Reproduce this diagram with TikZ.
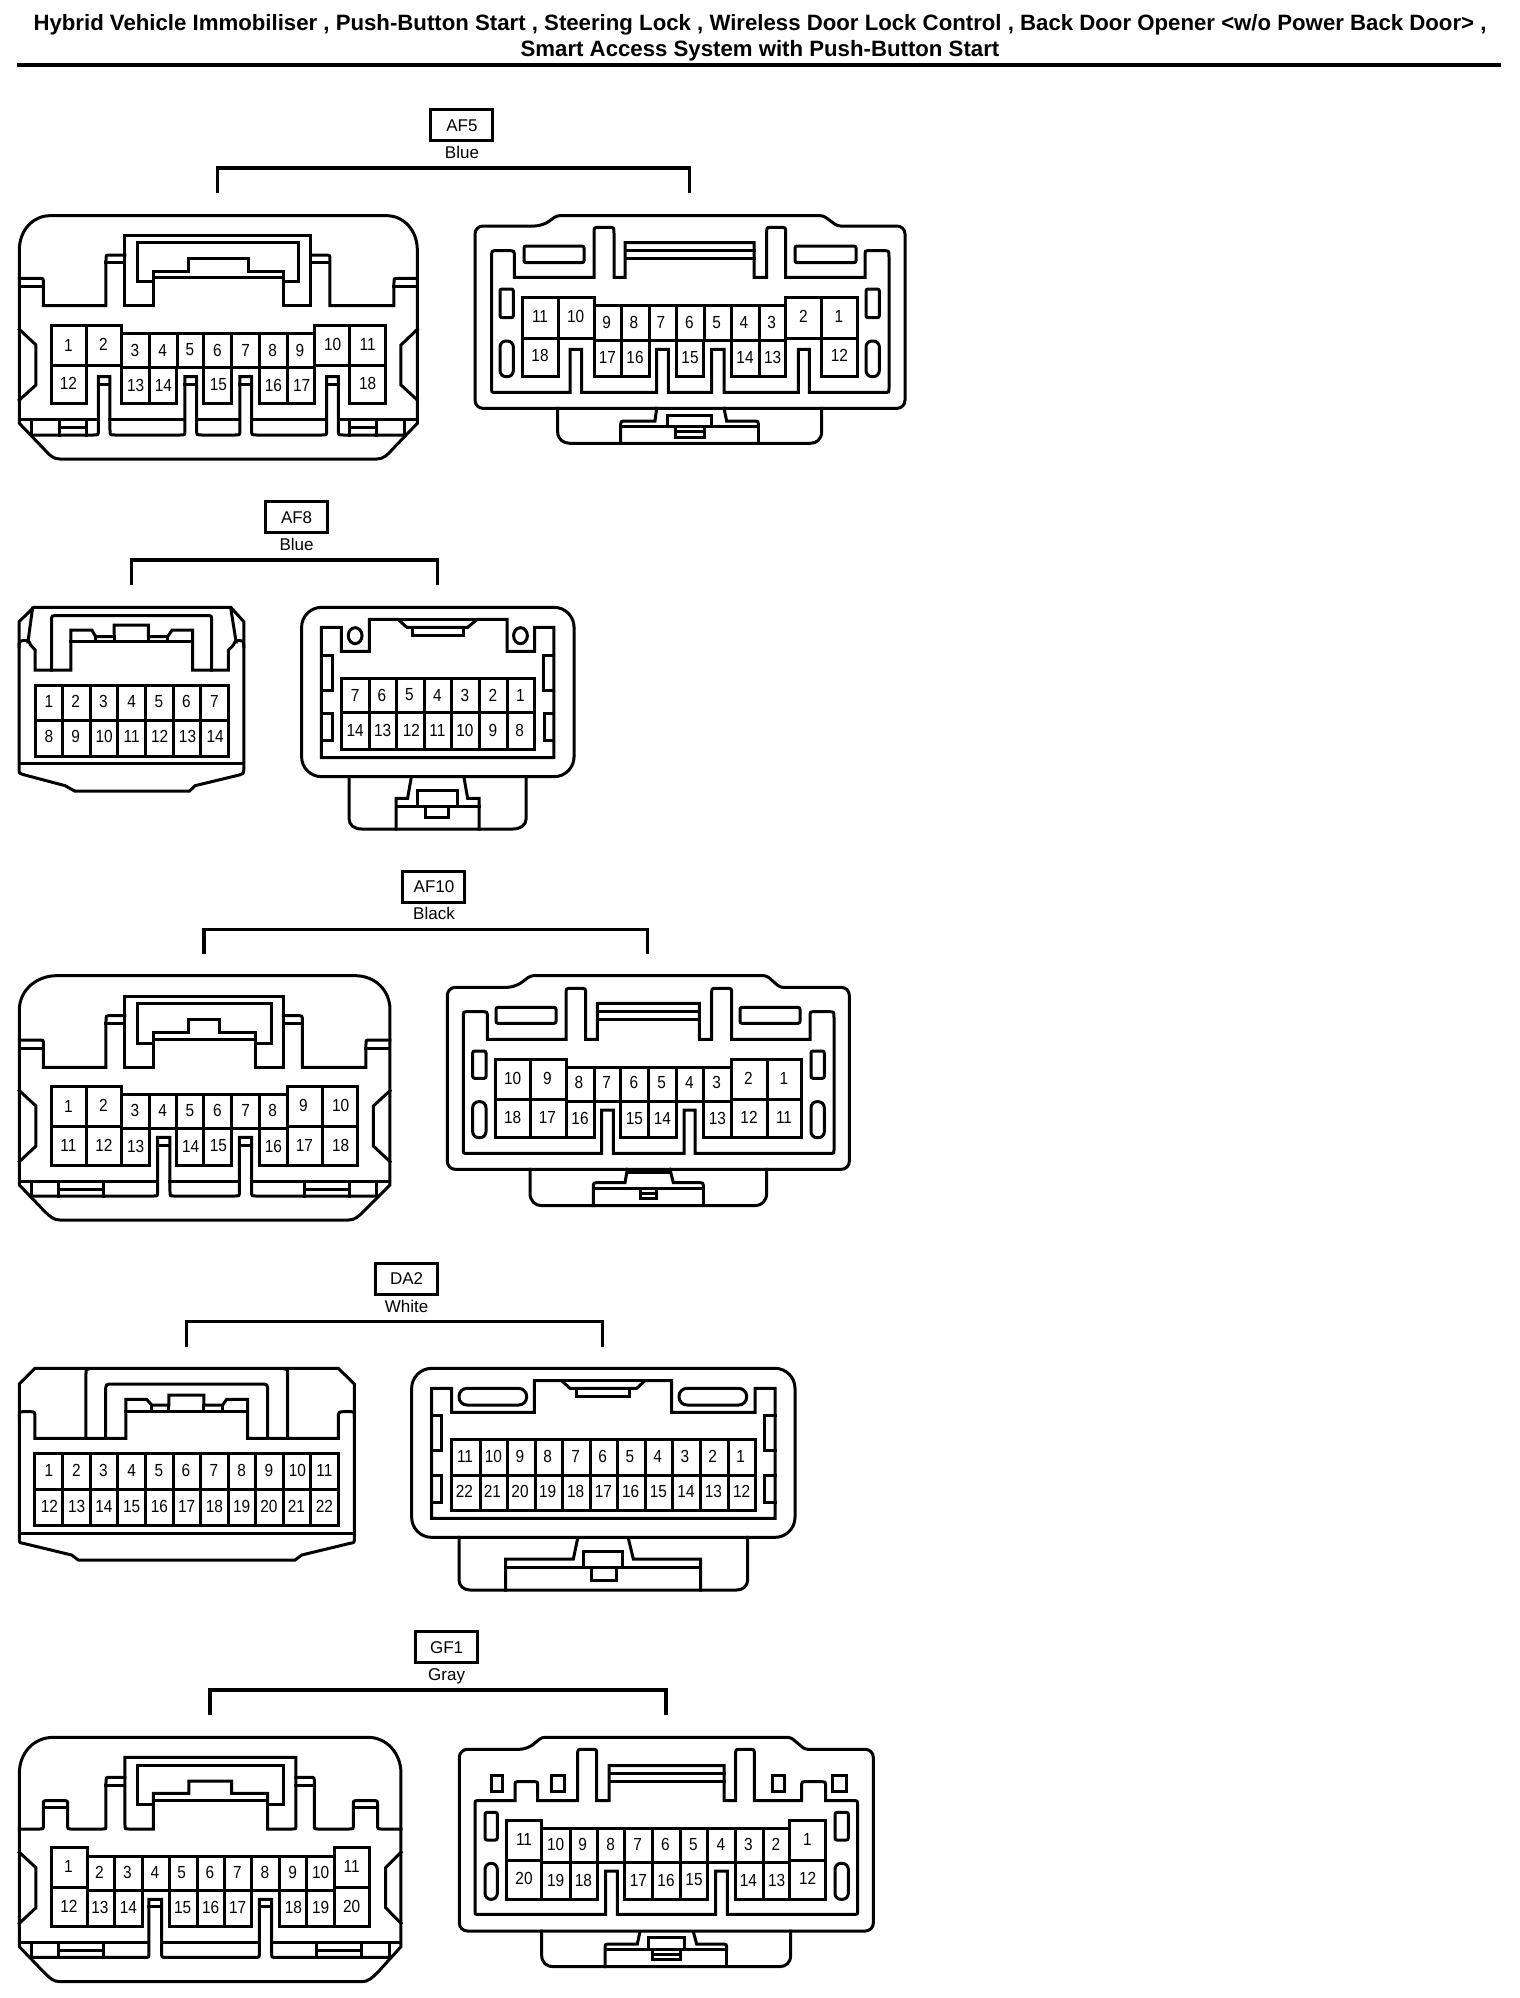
\documentclass[tikz,border=0pt]{standalone}
\usepackage{fontspec}
\setmainfont{Liberation Sans}
\newfontfamily\pinfont[FakeStretch=.88]{Liberation Sans}
\tikzset{
  w/.style={line width=3pt,line join=miter,line cap=rect},
  bracketline/.style={line width=3.4pt,line join=miter},
  pinlabel/.style={font=\pinfont\fontsize{17.5}{20}\selectfont,inner sep=0pt},
  tagbox/.style={draw,line width=3pt,minimum width=62pt,minimum height=31pt,inner sep=0pt,font=\fontsize{17}{19}\selectfont},
  colourlabel/.style={inner sep=0pt,font=\fontsize{17}{19}\selectfont},
  titletext/.style={inner sep=0pt,font=\bfseries\fontsize{22.2}{26}\selectfont},
}
\newcommand\pins[2]{\foreach \t/\x/\y in {#2} {\node[pinlabel] (#1-\t) at (\x,\y) {\t};}}
\newcommand\vl[1]{\foreach \x/\a/\b in {#1} {\draw[w] (\x,\a) -- (\x,\b);}}
\newcommand\hl[1]{\foreach \y/\a/\b in {#1} {\draw[w] (\a,\y) -- (\b,\y);}}
\def\Q(#1)(#2){.. controls (#1) .. (#2)}
\begin{document}
\begin{tikzpicture}[x=1pt,y=-1pt]
\fill[white] (0,0) rectangle (1520,1998);
\useasboundingbox (0,0) rectangle (1520,1998);
\node[titletext] (title1) at (760,24.5) {Hybrid Vehicle Immobiliser , Push-Button Start , Steering Lock , Wireless Door Lock Control , Back Door Opener <w/o Power Back Door> ,};
\node[titletext] (title2) at (760,51) {Smart Access System with Push-Button Start};
\draw[line width=4pt] (17,65) -- (1501,65);

%% ---------- AF5 left
\begin{scope}[shift={(0pt,-90pt)},x=.33333pt,y=-.33333pt]
\node[tagbox] (af5) at (1386,106) {AF5};
\node[colourlabel] (af5c) at (1386,187) {Blue};
\draw[bracketline] (653,308) -- (653,234) -- (2068,234) -- (2068,308);
\draw[w] (58,1000) -- (58,480) .. controls (58,420) and (100,377) .. (150,377) -- (1160,377) .. controls (1210,377) and (1252,420) .. (1252,480) -- (1252,1000) -- (1180,1075) .. controls (1160,1097) and (1150,1107) .. (1130,1107) -- (180,1107) .. controls (160,1107) and (150,1097) .. (130,1075) -- cycle;
\draw[w] (58,565) -- (118,565) \Q(130,565)(130,578) -- (130,647) -- (318,647) -- (318,510) \Q(318,495)(330,495) -- (375,495);
\hl{590/58/130,517/318/375,517/932/990,590/1182/1252,563/460/852}
\draw[w] (375,437) -- (932,437) -- (932,647) -- (852,647) -- (852,545) -- (745,545) -- (745,505) -- (567,505) -- (567,545) -- (460,545) -- (460,647) -- (375,647) -- cycle;
\draw[w] (852,575) -- (895,575) -- (895,458) -- (412,458) -- (412,575) -- (460,575);
\draw[w] (932,495) -- (975,495) \Q(990,495)(990,510) -- (990,647) -- (1182,647) -- (1182,578) \Q(1182,565)(1195,565) -- (1252,565);
\draw[w] (58,718) -- (108,765) -- (108,885) -- (58,930);
\draw[w] (1252,718) -- (1203,765) -- (1203,885) -- (1252,930);
\draw[w] (155,707) -- (365,707) -- (365,730) -- (945,730) -- (945,707) -- (1157,707) -- (1157,940) -- (1048,940) -- (1048,825);
\draw[w] (155,707) -- (155,940) -- (260,940) -- (260,707);
\draw[w] (365,730) -- (365,940) -- (530,940) -- (530,832);
\draw[w] (612,832) -- (612,940) -- (695,940) -- (695,832);
\draw[w] (778,832) -- (778,940) -- (945,940) -- (945,707);
\hl{825/155/365,832/365/945,825/945/1157}
\vl{450/730/940,532/730/832,612/730/832,695/730/832,778/730/832,862/730/940,1048/707/825}
\draw[w] (100,1035) -- (280,1035) \Q(295,1035)(295,1020) -- (295,860) -- (330,860) -- (330,1020) \Q(330,1035)(345,1035) -- (540,1035) \Q(555,1035)(555,1020) -- (555,860) -- (590,860) -- (590,1020) \Q(590,1035)(605,1035) -- (705,1035) \Q(720,1035)(720,1020) -- (720,860) -- (755,860) -- (755,1020) \Q(755,1035)(770,1035) -- (965,1035) \Q(980,1035)(980,1020) -- (980,860) -- (1015,860) -- (1015,1020) \Q(1015,1035)(1030,1035) -- (1215,1035);
\hl{988/58/295,988/330/555,988/590/720,988/755/980,988/1015/1252,882/295/330,882/555/590,882/720/755,882/980/1015,1012/178/260,1012/1048/1130}
\vl{95/990/1035,178/990/1035,260/990/1035,1048/990/1035,1130/990/1035,1215/990/1035}
\pins{a}{1/205/765,2/310/762,3/405/780,4/488/782,5/570/780,6/652/780,7/737/780,8/818/780,9/900/780,10/998/763,11/1103/763,12/205/880,13/407/885,14/490/885,15/655/885,16/820/885,17/905/885,18/1103/880}
\end{scope}

%% ---------- AF5 right
\begin{scope}[shift={(460pt,-90pt)},x=.33333pt,y=-.33333pt]
\draw[w,rounded corners=8pt] (45,600) -- (45,408) -- (248,408) [rounded corners=3pt] -- (290,377) -- (1090,377) -- (1132,408) [rounded corners=8pt] -- (1335,408) -- (1335,955) -- (45,955) -- cycle;
\draw[w] (95,500) \Q(95,482)(110,482) -- (145,482) \Q(163,482)(163,500) -- (163,562) -- (402,562) -- (402,430) \Q(402,412)(420,412) -- (445,412) \Q(462,412)(462,430) -- (462,562) -- (495,562) -- (495,458) -- (882,458) -- (882,562) -- (920,562) -- (920,430) \Q(920,412)(935,412) -- (960,412) \Q(977,412)(977,430) -- (977,562) -- (1215,562) -- (1215,500) \Q(1215,482)(1228,482) -- (1270,482) \Q(1287,482)(1287,500) -- (1287,895) \Q(1287,907)(1275,907) -- (1048,907) -- (1048,778) -- (1015,778) -- (1015,907) -- (792,907) -- (792,778) -- (755,778) -- (755,907) -- (625,907) -- (625,778) -- (590,778) -- (590,907) -- (365,907) -- (365,778) -- (330,778) -- (330,907) -- (105,907) \Q(95,907)(95,895) -- cycle;
\hl{482/495/882,505/495/882}
\draw[w,rounded corners=2pt] (192,468) rectangle (372,518);
\draw[w,rounded corners=2pt] (1005,468) rectangle (1188,518);
\draw[w,rounded corners=2pt] (120,597) rectangle (160,683);
\draw[w,rounded corners=6pt] (120,753) rectangle (160,860);
\draw[w,rounded corners=2pt] (1218,597) rectangle (1258,683);
\draw[w,rounded corners=6pt] (1218,753) rectangle (1258,860);
\draw[w] (187,622) -- (402,622) -- (402,647) -- (975,647) -- (975,622) -- (1193,622) -- (1193,858) -- (1085,858) -- (1085,622);
\draw[w] (187,622) -- (187,858) -- (295,858) -- (295,622);
\draw[w] (402,647) -- (402,858) -- (568,858) -- (568,752);
\draw[w] (648,752) -- (648,858) -- (730,858) -- (730,752);
\draw[w] (815,752) -- (815,858) -- (975,858) -- (975,622);
\hl{745/187/402,752/402/975,745/975/1193}
\vl{483/647/858,568/647/752,648/647/752,733/647/752,815/647/752,897/647/858}
\draw[w] (293,955) -- (293,1025) .. controls (293,1048) and (310,1060) .. (330,1060) -- (1050,1060) .. controls (1070,1060) and (1085,1048) .. (1085,1025) -- (1085,955);
\draw[w] (590,955) -- (585,993) -- (500,993) \Q(482,993)(482,1010) -- (482,1060);
\draw[w] (482,1010) -- (895,1010) -- (895,1060);
\draw[w] (895,1010) \Q(895,993)(880,993) -- (800,993) -- (792,955);
\draw[w] (622,1005) -- (622,977) -- (755,977) -- (755,1005);
\draw[w] (645,1010) -- (645,1042) -- (733,1042) -- (733,1010);
\hl{1025/645/733}
\pins{b}{11/240/680,10/347/680,9/440/697,8/522/697,7/603/697,6/688/697,5/770/697,4/852/697,3/935/697,2/1030/680,1/1137/680,18/240/797,17/442/803,16/525/803,15/690/803,14/855/803,13/938/803,12/1138/797}
\end{scope}

%% ---------- AF8
\begin{scope}[shift={(0pt,-490pt)},x=.3827pt,y=-.33333pt]
\node[tagbox] (af8) at (775,82) {AF8};
\node[colourlabel] (af8c) at (775,163) {Blue};
\draw[bracketline] (344,286) -- (344,210) -- (1143,210) -- (1143,286);
\draw[w] (50,395) -- (88,352) -- (603,352) -- (637,395) -- (637,840) \Q(637,850)(625,855) -- (510,887) -- (495,903) -- (195,903) -- (170,887) -- (65,855) \Q(50,850)(50,840) -- cycle;
\hl{820/50/637,455/185/503}
\draw[w] (50,470) \Q(50,452)(68,452) \Q(75,452)(80,465) -- (92,480) -- (92,540) -- (185,540) -- (185,420) -- (240,420) -- (250,440) -- (298,440) -- (298,405) -- (388,405) -- (388,440) -- (438,440) -- (450,420) -- (503,420) -- (503,540) -- (597,540) -- (597,480) -- (610,465) \Q(615,452)(622,452) \Q(637,452)(637,470);
\vl{298/440/455,388/440/455,250/440/455,438/440/455}
\draw[w] (135,540) -- (135,390) \Q(135,377)(148,377) -- (540,377) \Q(553,377)(553,390) -- (553,540);
\draw[w] (85,355) -- (73,456);
\draw[w] (603,355) -- (617,456);
\draw[w] (92,585) rectangle (597,798);
\hl{690/92/597}
\vl{163/585/798,237/585/798,308/585/798,381/585/798,454/585/798,525/585/798}
\pins{c}{1/128/635,2/198/635,3/270/635,4/344/635,5/415/635,6/487/635,7/560/635,8/128/740,9/198/740,10/272/740,11/344/740,12/417/740,13/490/740,14/562/740}
% right
\draw[w,rounded corners=20pt] (788,352) rectangle (1500,860);
\draw[w] (912,860) -- (912,985) .. controls (912,1005) and (925,1017) .. (945,1017) -- (1340,1017) .. controls (1360,1017) and (1375,1005) .. (1375,985) -- (1375,860);
\draw[w] (840,412) -- (892,412) -- (892,484) -- (965,484) -- (965,388) -- (1040,388) -- (1063,412) -- (1222,412) -- (1247,388) -- (1325,388) -- (1325,484) -- (1397,484) -- (1397,412) -- (1447,412) -- (1447,803) -- (840,803) -- cycle;
\hl{388/1040/1247}
\draw[w] (1078,412) -- (1078,437) -- (1212,437) -- (1212,412);
\draw[w] (928,437) ellipse [x radius=18,y radius=24];
\draw[w] (1360,437) ellipse [x radius=18,y radius=24];
\draw[w] (840,495) -- (868,495) -- (868,600) -- (840,600);
\draw[w] (840,670) -- (868,670) -- (868,752) -- (840,752);
\draw[w] (1447,495) -- (1420,495) -- (1420,600) -- (1447,600);
\draw[w] (1447,670) -- (1422,670) -- (1422,752) -- (1447,752);
\draw[w] (892,565) rectangle (1397,778);
\hl{668/892/1397}
\vl{965/565/778,1037/565/778,1108/565/778,1180/565/778,1252/565/778,1325/565/778}
\pins{d}{7/928/615,6/998/615,5/1070/615,4/1143/615,3/1215/615,2/1288/615,1/1360/615,14/928/722,13/1000/722,12/1075/722,11/1143/722,10/1215/722,9/1288/722,8/1358/722}
\draw[w] (1075,860) -- (1065,925) -- (1035,925) -- (1035,1017);
\draw[w] (1212,860) -- (1222,925) -- (1252,925) -- (1252,1017);
\hl{948/1035/1252}
\draw[w] (1092,948) -- (1092,902) -- (1195,902) -- (1195,948);
\draw[w] (1113,948) -- (1113,982) -- (1172,982) -- (1172,948);
\end{scope}

%% ---------- AF10 left
\begin{scope}[shift={(0pt,-860pt)},x=.33333pt,y=-.33333pt]
\node[tagbox] (af10) at (1302,80) {AF10};
\node[colourlabel] (af10c) at (1302,161) {Black};
\draw[bracketline] (612,283) -- (612,208) -- (1943,208) -- (1943,283);
\draw[w] (58,975) -- (58,450) .. controls (58,390) and (110,347) .. (170,347) -- (1065,347) .. controls (1125,347) and (1170,390) .. (1170,450) -- (1170,975) -- (1095,1050) .. controls (1075,1070) and (1065,1080) .. (1045,1080) -- (180,1080) .. controls (160,1080) and (150,1070) .. (130,1050) -- cycle;
\draw[w] (58,540) -- (118,540) \Q(130,540)(130,552) -- (130,622) -- (318,622) -- (318,483) \Q(318,467)(330,467) -- (375,467);
\hl{565/58/130,490/318/375,490/850/907,565/1098/1170,538/460/768}
\draw[w] (375,408) -- (850,408) -- (850,622) -- (768,622) -- (768,518) -- (660,518) -- (660,478) -- (567,478) -- (567,518) -- (460,518) -- (460,622) -- (375,622) -- cycle;
\draw[w] (768,550) -- (815,550) -- (815,430) -- (412,430) -- (412,550) -- (460,550);
\draw[w] (850,467) -- (893,467) \Q(907,467)(907,483) -- (907,622) -- (1098,622) -- (1098,552) \Q(1098,540)(1110,540) -- (1170,540);
\draw[w] (58,692) -- (108,738) -- (108,858) -- (58,905);
\draw[w] (1170,692) -- (1120,738) -- (1120,858) -- (1170,905);
\draw[w] (155,680) -- (365,680) -- (365,703) -- (862,703) -- (862,680) -- (1073,680) -- (1073,915) -- (778,915) -- (778,805);
\draw[w] (155,680) -- (155,915) -- (448,915) -- (448,805);
\draw[w] (530,805) -- (530,915) -- (695,915) -- (695,805);
\hl{798/155/365,805/365/862,798/862/1073}
\vl{260/680/915,365/680/915,450/703/805,530/703/805,612/703/915,695/703/805,778/703/805,862/680/915,968/680/915}
\draw[w] (100,1008) -- (460,1008) \Q(473,1008)(473,995) -- (473,832) -- (510,832) -- (510,995) \Q(510,1008)(522,1008) -- (705,1008) \Q(718,1008)(718,995) -- (718,832) -- (755,832) -- (755,995) \Q(755,1008)(768,1008) -- (1130,1008);
\hl{963/58/473,963/510/718,963/755/1170,855/473/510,855/718/755,987/175/310,987/915/1048}
\vl{95/963/1008,175/963/1008,310/963/1008,915/963/1008,1048/963/1008,1130/963/1008}
\pins{e}{1/205/738,2/310/737,3/405/752,4/488/752,5/570/752,6/652/752,7/737/752,8/818/752,9/910/737,10/1022/737,11/205/855,12/312/855,13/407/858,14/572/858,15/655/858,16/820/858,17/913/855,18/1022/855}
\end{scope}

%% ---------- AF10 right
\begin{scope}[shift={(430pt,-860pt)},x=.33333pt,y=-.33333pt]
\draw[w,rounded corners=8pt] (52,600) -- (52,382) -- (255,382) [rounded corners=3pt] -- (302,347) -- (1010,347) -- (1050,382) [rounded corners=8pt] -- (1258,382) -- (1258,928) -- (52,928) -- cycle;
\draw[w] (100,472) \Q(100,455)(115,455) -- (155,455) \Q(172,455)(172,472) -- (172,538) -- (408,538) -- (408,402) \Q(408,385)(425,385) -- (450,385) \Q(467,385)(467,402) -- (467,538) -- (502,538) -- (502,430) -- (808,430) -- (808,538) -- (845,538) -- (845,402) \Q(845,385)(860,385) -- (888,385) \Q(905,385)(905,402) -- (905,538) -- (1140,538) -- (1140,472) \Q(1140,455)(1155,455) -- (1195,455) \Q(1212,455)(1212,472) -- (1212,870) \Q(1212,880)(1200,880) -- (795,880) -- (795,750) -- (762,750) -- (762,880) -- (550,880) -- (550,750) -- (515,750) -- (515,880) -- (112,880) \Q(100,880)(100,870) -- cycle;
\hl{455/502/808,478/502/808}
\draw[w,rounded corners=2pt] (198,442) rectangle (378,490);
\draw[w,rounded corners=2pt] (930,442) rectangle (1110,490);
\draw[w,rounded corners=2pt] (128,573) rectangle (168,655);
\draw[w,rounded corners=6pt] (128,725) rectangle (168,833);
\draw[w,rounded corners=2pt] (1143,573) rectangle (1183,655);
\draw[w,rounded corners=6pt] (1143,725) rectangle (1183,833);
\draw[w] (195,598) -- (408,598) -- (408,622) -- (905,622) -- (905,598) -- (1115,598) -- (1115,832) -- (820,832) -- (820,725);
\draw[w] (195,598) -- (195,832) -- (492,832) -- (492,725);
\draw[w] (570,725) -- (570,832) -- (738,832) -- (738,725);
\hl{718/195/408,725/408/905,718/905/1115}
\vl{300/598/832,408/598/832,492/622/725,572/622/725,655/622/832,738/622/725,820/622/725,905/598/832,1012/598/832}
\draw[w] (300,928) -- (300,1000) .. controls (300,1022) and (315,1037) .. (335,1037) -- (975,1037) .. controls (995,1037) and (1010,1022) .. (1010,1000) -- (1010,928);
\draw[w] (592,928) -- (585,968) -- (505,968) \Q(490,968)(490,985) -- (490,1037);
\draw[w] (490,985) -- (820,985) -- (820,1037);
\draw[w] (820,985) \Q(820,968)(805,968) -- (730,968) -- (720,928);
\hl{938/592/718,1000/630/680}
\draw[w] (630,985) -- (630,1015) -- (680,1015) -- (680,985);
\pins{f}{10/248/655,9/352/655,8/447/668,7/530/668,6/612/668,5/695/668,4/778/668,3/860/668,2/955/655,1/1062/655,18/248/772,17/352/772,16/450/775,15/613/775,14/697/775,13/862/775,12/957/772,11/1062/772}
\end{scope}

%% ---------- DA2 left
\begin{scope}[shift={(0pt,-1260pt)},x=.33333pt,y=-.33333pt]
\node[tagbox] (da2) at (1220,57) {DA2};
\node[colourlabel] (da2c) at (1220,140) {White};
\draw[bracketline] (560,260) -- (560,184) -- (1808,184) -- (1808,260);
\draw[w] (58,372) -- (105,325) -- (1015,325) -- (1063,372) -- (1063,835) \Q(1063,848)(1050,850) -- (905,885) -- (885,900) -- (235,900) -- (215,885) -- (70,850) \Q(58,848)(58,835) -- cycle;
\hl{820/58/1063,453/378/743}
\draw[w] (58,470) \Q(58,455)(75,455) -- (88,455) \Q(105,455)(105,475) -- (105,535) -- (378,535) -- (378,418) -- (440,418) -- (455,435) -- (507,435) -- (507,405) -- (612,405) -- (612,435) -- (668,435) -- (680,418) -- (743,418) -- (743,535) -- (1015,535) -- (1015,475) \Q(1015,455)(1035,455) -- (1048,455) \Q(1063,455)(1063,470);
\vl{455/435/453,507/435/453,612/435/453,668/435/453}
\draw[w] (258,535) -- (258,340) \Q(258,327)(265,327);
\draw[w] (863,535) -- (863,345) \Q(863,327)(855,327);
\draw[w] (317,535) -- (317,395) \Q(317,372)(340,372) -- (780,372) \Q(803,372)(803,395) -- (803,535);
\draw[w] (105,580) rectangle (1015,797);
\hl{688/105/1015}
\vl{188/580/797,272/580/797,354/580/797,437/580/797,522/580/797,603/580/797,685/580/797,768/580/797,851/580/797,933/580/797}
\pins{g}{1/147/632,2/229/632,3/310/632,4/395/632,5/477/632,6/558/632,7/642/632,8/725/632,9/807/632,10/892/632,11/973/632,12/148/740,13/230/740,14/312/740,15/395/740,16/478/740,17/560/740,18/643/740,19/725/740,20/807/740,21/889/740,22/973/740}
\end{scope}

%% ---------- DA2 right
\begin{scope}[shift={(390pt,-1260pt)},x=.33333pt,y=-.33333pt]
\draw[w,rounded corners=20pt] (65,325) rectangle (1215,832);
\draw[w] (125,385) -- (185,385) -- (185,457) -- (433,457) -- (433,362) -- (515,362) -- (540,385) -- (740,385) -- (765,362) -- (845,362) -- (845,457) -- (1095,457) -- (1095,385) -- (1155,385) -- (1155,775) -- (125,775) -- cycle;
\hl{362/515/765}
\draw[w] (560,385) -- (560,410) -- (718,410) -- (718,385);
\draw[w,rounded corners=8pt] (207,385) rectangle (410,435);
\draw[w,rounded corners=8pt] (867,385) rectangle (1070,435);
\draw[w] (125,467) -- (155,467) -- (155,572) -- (125,572);
\draw[w] (125,645) -- (155,645) -- (155,727) -- (125,727);
\draw[w] (1155,467) -- (1122,467) -- (1122,572) -- (1155,572);
\draw[w] (1155,645) -- (1122,645) -- (1122,727) -- (1155,727);
\draw[w] (183,538) rectangle (1095,752);
\hl{645/183/1095}
\vl{270/538/752,352/538/752,435/538/752,516/538/752,600/538/752,683/538/752,765/538/752,848/538/752,930/538/752,1015/538/752}
\pins{h}{11/225/590,10/310/590,9/390/590,8/473/590,7/557/590,6/638/590,5/720/590,4/803/590,3/885/590,2/968/590,1/1052/590,22/223/695,21/307/695,20/390/695,19/473/695,18/557/695,17/640/695,16/722/695,15/805/695,14/888/695,13/970/695,12/1055/695}
\draw[w] (207,832) -- (207,960) .. controls (207,978) and (222,990) .. (240,990) -- (1040,990) .. controls (1058,990) and (1073,978) .. (1073,960) -- (1073,832);
\draw[w] (563,835) -- (550,897) -- (347,897) -- (347,990);
\draw[w] (715,835) -- (730,897) -- (932,897) -- (932,990);
\hl{922/347/932}
\draw[w] (580,922) -- (580,875) -- (697,875) -- (697,922);
\draw[w] (603,922) -- (603,960) -- (678,960) -- (678,922);
\end{scope}

%% ---------- GF1 left
\begin{scope}[shift={(0pt,-1640pt)},x=.33333pt,y=-.33333pt]
\node[tagbox] (gf1) at (1340,22) {GF1};
\node[colourlabel] (gf1c) at (1340,109) {Gray};
\draw[bracketline] (630,225) -- (630,150) -- (1998,150) -- (1998,225);
\draw[w] (58,920) -- (58,400) .. controls (58,340) and (100,292) .. (160,292) -- (1105,292) .. controls (1160,292) and (1203,340) .. (1203,400) -- (1203,920) -- (1135,995) .. controls (1115,1015) and (1105,1025) .. (1085,1025) -- (180,1025) .. controls (160,1025) and (150,1015) .. (130,995) -- cycle;
\draw[w] (58,567) -- (118,567) \Q(130,567)(130,555) -- (130,495) \Q(130,482)(142,482) -- (190,482) \Q(203,482)(203,495) -- (203,555) \Q(203,567)(215,567) -- (305,567) \Q(318,567)(318,555) -- (318,428) \Q(318,412)(330,412) -- (375,412);
\hl{503/130/203,435/318/375,435/888/943,503/1060/1133,482/460/803}
\draw[w] (375,352) -- (888,352) -- (888,555) \Q(888,567)(875,567) -- (803,567) -- (803,460) -- (695,460) -- (695,423) -- (567,423) -- (567,460) -- (460,460) -- (460,567) -- (388,567) \Q(375,567)(375,555) -- cycle;
\draw[w] (803,493) -- (852,493) -- (852,377) -- (412,377) -- (412,493) -- (460,493);
\draw[w] (888,412) -- (930,412) \Q(943,412)(943,428) -- (943,555) \Q(943,567)(955,567) -- (1045,567) \Q(1060,567)(1060,555) -- (1060,495) \Q(1060,482)(1072,482) -- (1120,482) \Q(1133,482)(1133,495) -- (1133,555) \Q(1133,567)(1145,567) -- (1203,567);
\draw[w] (58,637) -- (108,683) -- (108,803) -- (58,850);
\draw[w] (1203,637) -- (1157,683) -- (1157,803) -- (1203,850);
\draw[w] (155,623) -- (262,623) -- (262,648) -- (1003,648) -- (1003,623) -- (1110,623) -- (1110,860) -- (838,860) -- (838,750);
\draw[w] (155,623) -- (155,860) -- (428,860) -- (428,750);
\draw[w] (510,750) -- (510,860) -- (755,860) -- (755,750);
\hl{743/155/262,750/262/1003,743/1003/1110}
\vl{262/623/860,343/648/860,428/648/750,510/648/750,592/648/860,673/648/860,755/648/750,838/648/750,920/648/860,1003/623/860}
\draw[w] (100,952) -- (435,952) \Q(447,952)(447,940) -- (447,778) -- (485,778) -- (485,940) \Q(485,952)(497,952) -- (765,952) \Q(778,952)(778,940) -- (778,778) -- (815,778) -- (815,940) \Q(815,952)(827,952) -- (1165,952);
\hl{908/58/447,908/485/778,908/815/1203,800/447/485,800/778/815,932/175/310,932/950/1085}
\vl{95/908/952,175/908/952,310/908/952,950/908/952,1085/908/952,1168/908/952}
\pins{k}{1/205/680,2/298/698,3/382/698,4/465/698,5/545/698,6/630/698,7/712/698,8/795/698,9/878/698,10/962/698,11/1055/680,12/207/798,13/300/803,14/385/803,15/548/803,16/632/803,17/713/803,18/880/803,19/962/803,20/1055/798}
\end{scope}

%% ---------- GF1 right
\begin{scope}[shift={(430pt,-1640pt)},x=.33333pt,y=-.33333pt]
\draw[w,rounded corners=8pt] (88,600) -- (88,328) -- (292,328) [rounded corners=3pt] -- (335,292) -- (1082,292) -- (1125,328) [rounded corners=8pt] -- (1330,328) -- (1330,873) -- (88,873) -- cycle;
\draw[w] (135,495) \Q(135,482)(145,482) -- (255,482) -- (255,440) \Q(255,425)(268,425) -- (310,425) \Q(323,425)(323,440) -- (323,482) -- (443,482) -- (443,345) \Q(443,328)(458,328) -- (485,328) \Q(500,328)(500,345) -- (500,482) -- (537,482) -- (537,377) -- (882,377) -- (882,482) -- (917,482) -- (917,345) \Q(917,328)(932,328) -- (958,328) \Q(973,328)(973,345) -- (973,482) -- (1115,482) -- (1115,440) \Q(1115,425)(1128,425) -- (1170,425) \Q(1187,425)(1187,440) -- (1187,482) -- (1270,482) \Q(1283,482)(1283,495) -- (1283,812) \Q(1283,823)(1270,823) -- (892,823) -- (892,693) -- (857,693) -- (857,823) -- (562,823) -- (562,693) -- (527,693) -- (527,823) -- (145,823) \Q(135,823)(135,812) -- cycle;
\hl{400/537/882,425/537/882}
\draw[w] (183,405) rectangle (218,455);
\draw[w] (363,405) rectangle (402,455);
\draw[w] (1027,405) rectangle (1063,455);
\draw[w] (1208,405) rectangle (1248,455);
\draw[w,rounded corners=2pt] (165,517) rectangle (202,600);
\draw[w,rounded corners=6pt] (165,670) rectangle (202,778);
\draw[w,rounded corners=2pt] (1215,517) rectangle (1255,600);
\draw[w,rounded corners=6pt] (1215,670) rectangle (1255,778);
\draw[w] (230,540) -- (335,540) -- (335,565) -- (1078,565) -- (1078,540) -- (1187,540) -- (1187,778) -- (917,778) -- (917,668);
\draw[w] (230,540) -- (230,778) -- (502,778) -- (502,668);
\draw[w] (583,668) -- (583,778) -- (833,778) -- (833,668);
\hl{660/230/335,668/335/1078,660/1078/1187}
\vl{335/540/778,420/565/778,502/565/668,583/565/668,668/565/778,750/565/778,833/565/668,917/565/668,1000/565/778,1078/540/778}
\draw[w] (335,873) -- (335,945) .. controls (335,968) and (350,980) .. (370,980) -- (1048,980) .. controls (1068,980) and (1082,968) .. (1082,945) -- (1082,873);
\draw[w] (630,875) -- (622,912) -- (540,912) \Q(525,912)(525,928) -- (525,980);
\draw[w] (525,928) -- (890,928) -- (890,980);
\draw[w] (890,928) \Q(890,912)(875,912) -- (800,912) -- (790,875);
\draw[w] (655,928) -- (655,893) -- (762,893) -- (762,928);
\draw[w] (668,928) -- (668,958) -- (750,958) -- (750,928);
\hl{943/668/750}
\pins{m}{11/282/598,10/377/613,9/458/613,8/542/613,7/623/613,6/706/613,5/790/613,4/873/613,3/955/613,2/1038/613,1/1132/598,20/282/715,19/377/720,18/460/720,17/625/720,16/708/720,15/792/720,14/955/720,13/1040/720,12/1133/715}
\end{scope}
\end{tikzpicture}
\end{document}
